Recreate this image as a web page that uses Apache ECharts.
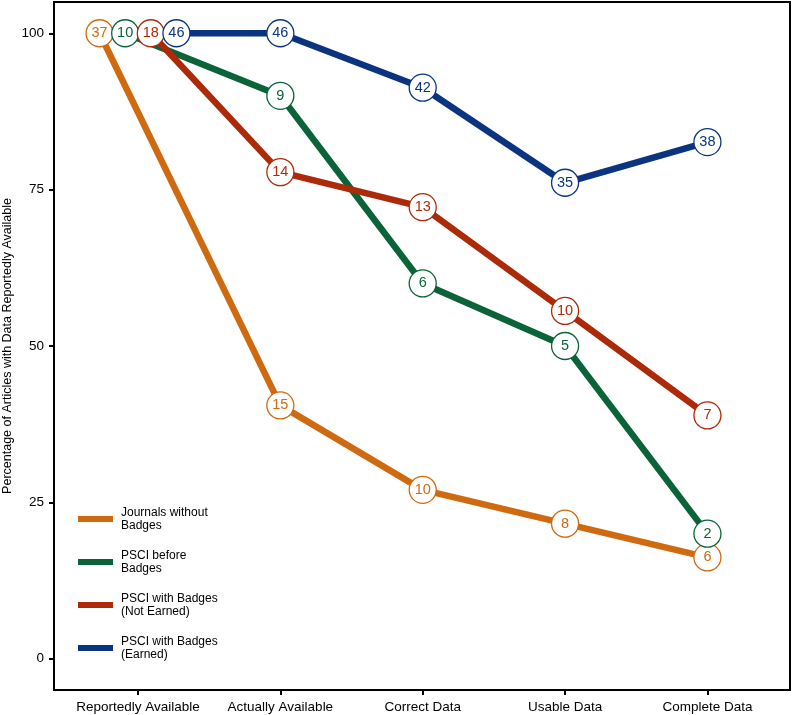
<!DOCTYPE html>
<html>
<head>
<meta charset="utf-8">
<script src="https://cdn.jsdelivr.net/npm/echarts@6/dist/echarts.min.js"></script>
<style>html,body{margin:0;padding:0;background:#fff}#c{width:796px;height:715px}</style>
</head>
<body>
<div id="c"></div>
<script>
// ---- data ----
var categories = ['Reportedly Available', 'Actually Available', 'Correct Data', 'Usable Data', 'Complete Data'];
var seriesNames = ['Journals without\nBadges', 'PSCI before\nBadges', 'PSCI with Badges\n(Not Earned)', 'PSCI with Badges\n(Earned)'];
// article counts shown in the circles
var countsJournals = [37, 15, 10, 8, 6];
var countsBefore   = [10, 9, 6, 5, 2];
var countsNotEarned = [18, 14, 13, 10, 7];
var countsEarned   = [46, 46, 42, 35, 38];
// percentage of articles with data reportedly available
var pctJournals  = [100, 40.5, 27.0, 21.6, 16.2];
var pctBefore    = [100, 90, 60, 50, 20];
var pctNotEarned = [100, 77.8, 72.2, 55.6, 38.9];
var pctEarned    = [100, 100, 91.3, 76.1, 82.6];
var yTicks = [0, 25, 50, 75, 100];

// ---- styling / layout ----
var colors = ['#CF6A10', '#0B6437', '#AD2A09', '#0A3480'];
var firstDodge = [-0.27, -0.09, 0.09, 0.27]; // horizontal dodge at first category
var font = 'Liberation Sans, Arial, Helvetica, sans-serif';

var allCounts = [countsJournals, countsBefore, countsNotEarned, countsEarned];
var allPct = [pctJournals, pctBefore, pctNotEarned, pctEarned];
var xPos = categories.map(function (c, i) { return i + 1; });

var series = allPct.map(function (pct, s) {
  return {
    name: seriesNames[s],
    type: 'line',
    z: 2 + s,
    data: pct.map(function (v, i) {
      return [xPos[i] + (i === 0 ? firstDodge[s] : 0), v, allCounts[s][i]];
    }),
    symbol: 'circle',
    symbolSize: 27,
    showAllSymbol: true,
    lineStyle: { color: colors[s], width: 6.5 },
    itemStyle: { color: '#ffffff', borderColor: colors[s], borderWidth: 1.3 },
    label: {
      show: true, position: 'inside', color: colors[s], fontSize: 14.5, fontFamily: font,
      formatter: function (p) { return String(p.value[2]); }
    },
    emphasis: { disabled: true },
    animation: false
  };
});

var chart = echarts.init(document.getElementById('c'), null, { renderer: 'canvas' });
chart.setOption({
  backgroundColor: '#ffffff',
  animation: false,
  grid: {
    left: 54, right: 6, top: 2, bottom: 25, show: true, borderColor: '#000', borderWidth: 2,
    containLabel: false, outerBoundsMode: 'none'
  },
  legend: {
    orient: 'vertical', left: 78, top: 506, itemGap: 17, padding: 0,
    icon: 'rect', itemWidth: 35, itemHeight: 6,
    selectedMode: false,
    textStyle: { fontSize: 12, lineHeight: 13, color: '#000', fontFamily: font, padding: [0, 0, 0, 3] },
    data: seriesNames.map(function (n, i) {
      return { name: n, itemStyle: { color: colors[i], borderWidth: 0 } };
    })
  },
  xAxis: {
    type: 'value', min: 0.41, max: 5.58,
    splitLine: { show: false },
    axisLine: { show: true, onZero: false, lineStyle: { color: '#000', width: 2 } },
    axisTick: { show: true, length: 5, customValues: xPos, lineStyle: { color: '#000', width: 2 } },
    axisLabel: {
      customValues: xPos, color: '#000', fontSize: 13.5, fontFamily: font, margin: 10,
      formatter: function (v) { return categories[Math.round(v) - 1] || ''; }
    }
  },
  yAxis: {
    type: 'value', min: -5, max: 105,
    name: 'Percentage of Articles with Data Reportedly Available',
    nameLocation: 'middle', nameGap: 40, nameMoveOverlap: false,
    nameTextStyle: { color: '#000', fontSize: 12.5, fontFamily: font },
    splitLine: { show: false },
    axisLine: { show: true, onZero: false, lineStyle: { color: '#000', width: 2 } },
    axisTick: { show: true, length: 5, customValues: yTicks, lineStyle: { color: '#000', width: 2 } },
    axisLabel: { customValues: yTicks, color: '#000', fontSize: 13.5, fontFamily: font, margin: 10 }
  },
  series: series
});
</script>
</body>
</html>
